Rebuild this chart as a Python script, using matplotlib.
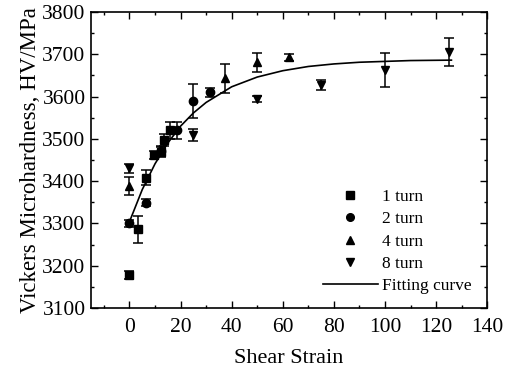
import matplotlib
matplotlib.use("Agg")
import matplotlib.pyplot as plt
from matplotlib.lines import Line2D
from matplotlib.ticker import MultipleLocator

plt.rcParams['font.family'] = ['Liberation Serif', 'DejaVu Serif']

# datos
x_1turn = [0, 3.5, 6.5, 9.5, 12.5, 13.5, 16]
y_1turn = [3178, 3286, 3408, 3462, 3468, 3497, 3520]
e_1turn = [10, 32, 18, 10, 12, 15, 20]

x_2turn = [0, 6.5, 12.5, 18.5, 25, 31.5]
y_2turn = [3300, 3349, 3472, 3520, 3590, 3610]
e_2turn = [8, 8, 10, 20, 40, 10]

x_4turn = [0, 37.5, 50, 62.5]
y_4turn = [3388, 3643, 3681, 3693]
e_4turn = [21, 35, 22, 8]

x_8turn = [0, 25, 50, 75, 100, 125]
y_8turn = [3430, 3509, 3594, 3627, 3663, 3706]
e_8turn = [10, 15, 8, 12, 41, 33]

x_fit = [0, 5, 10, 15, 20, 25, 30, 40, 50, 60, 70, 80, 90, 100, 110, 126]
y_fit = [3304, 3380, 3441, 3490, 3530, 3561, 3586, 3623, 3646, 3661, 3671, 3677, 3681, 3683, 3685, 3686]

fig = plt.figure(figsize=(5.15, 3.72), dpi=100)
ax = fig.add_axes([0.177, 0.172, 0.769, 0.796])

series = [
    (x_1turn, y_1turn, e_1turn, 's', '1 turn'),
    (x_2turn, y_2turn, e_2turn, 'o', '2 turn'),
    (x_4turn, y_4turn, e_4turn, '^', '4 turn'),
    (x_8turn, y_8turn, e_8turn, 'v', '8 turn'),
]
handles = []
for xs, ys, es, mk, lab in series:
    ax.errorbar(xs, ys, yerr=es, fmt=mk, color='black', ms=6,
                capsize=3.5, elinewidth=1.1, capthick=1.1)
    handles.append(Line2D([], [], ls='none', marker=mk, color='black', ms=5.5, label=lab))

ax.plot(x_fit, y_fit, color='black', lw=1.2)
handles.append(Line2D([], [], color='black', lw=1.2, label='Fitting curve'))

ax.set_xlim(-15, 140)
ax.set_ylim(3100, 3800)
ax.xaxis.set_major_locator(MultipleLocator(20))
ax.xaxis.set_minor_locator(MultipleLocator(10))
ax.yaxis.set_major_locator(MultipleLocator(100))
ax.yaxis.set_minor_locator(MultipleLocator(50))
ax.tick_params(which='both', direction='in', top=True, right=True, labelsize=15.5, width=1)
ax.tick_params(which='major', length=5, pad=4)
ax.tick_params(axis='x', which='major', pad=7)
ax.tick_params(which='minor', length=2.5)
for s in ax.spines.values():
    s.set_linewidth(1.2)

ax.set_xlabel('Shear Strain', fontsize=16, labelpad=9)
ax.set_ylabel('Vickers Microhardness, HV/MPa', fontsize=16.5, labelpad=1)

ax.legend(handles=handles, loc='lower right', frameon=False, fontsize=12.5,
          handlelength=3.2, handletextpad=0.2, labelspacing=0.35,
          borderaxespad=0.4, bbox_to_anchor=(0.995, 0.0))

fig.savefig('out.png', dpi=100)
